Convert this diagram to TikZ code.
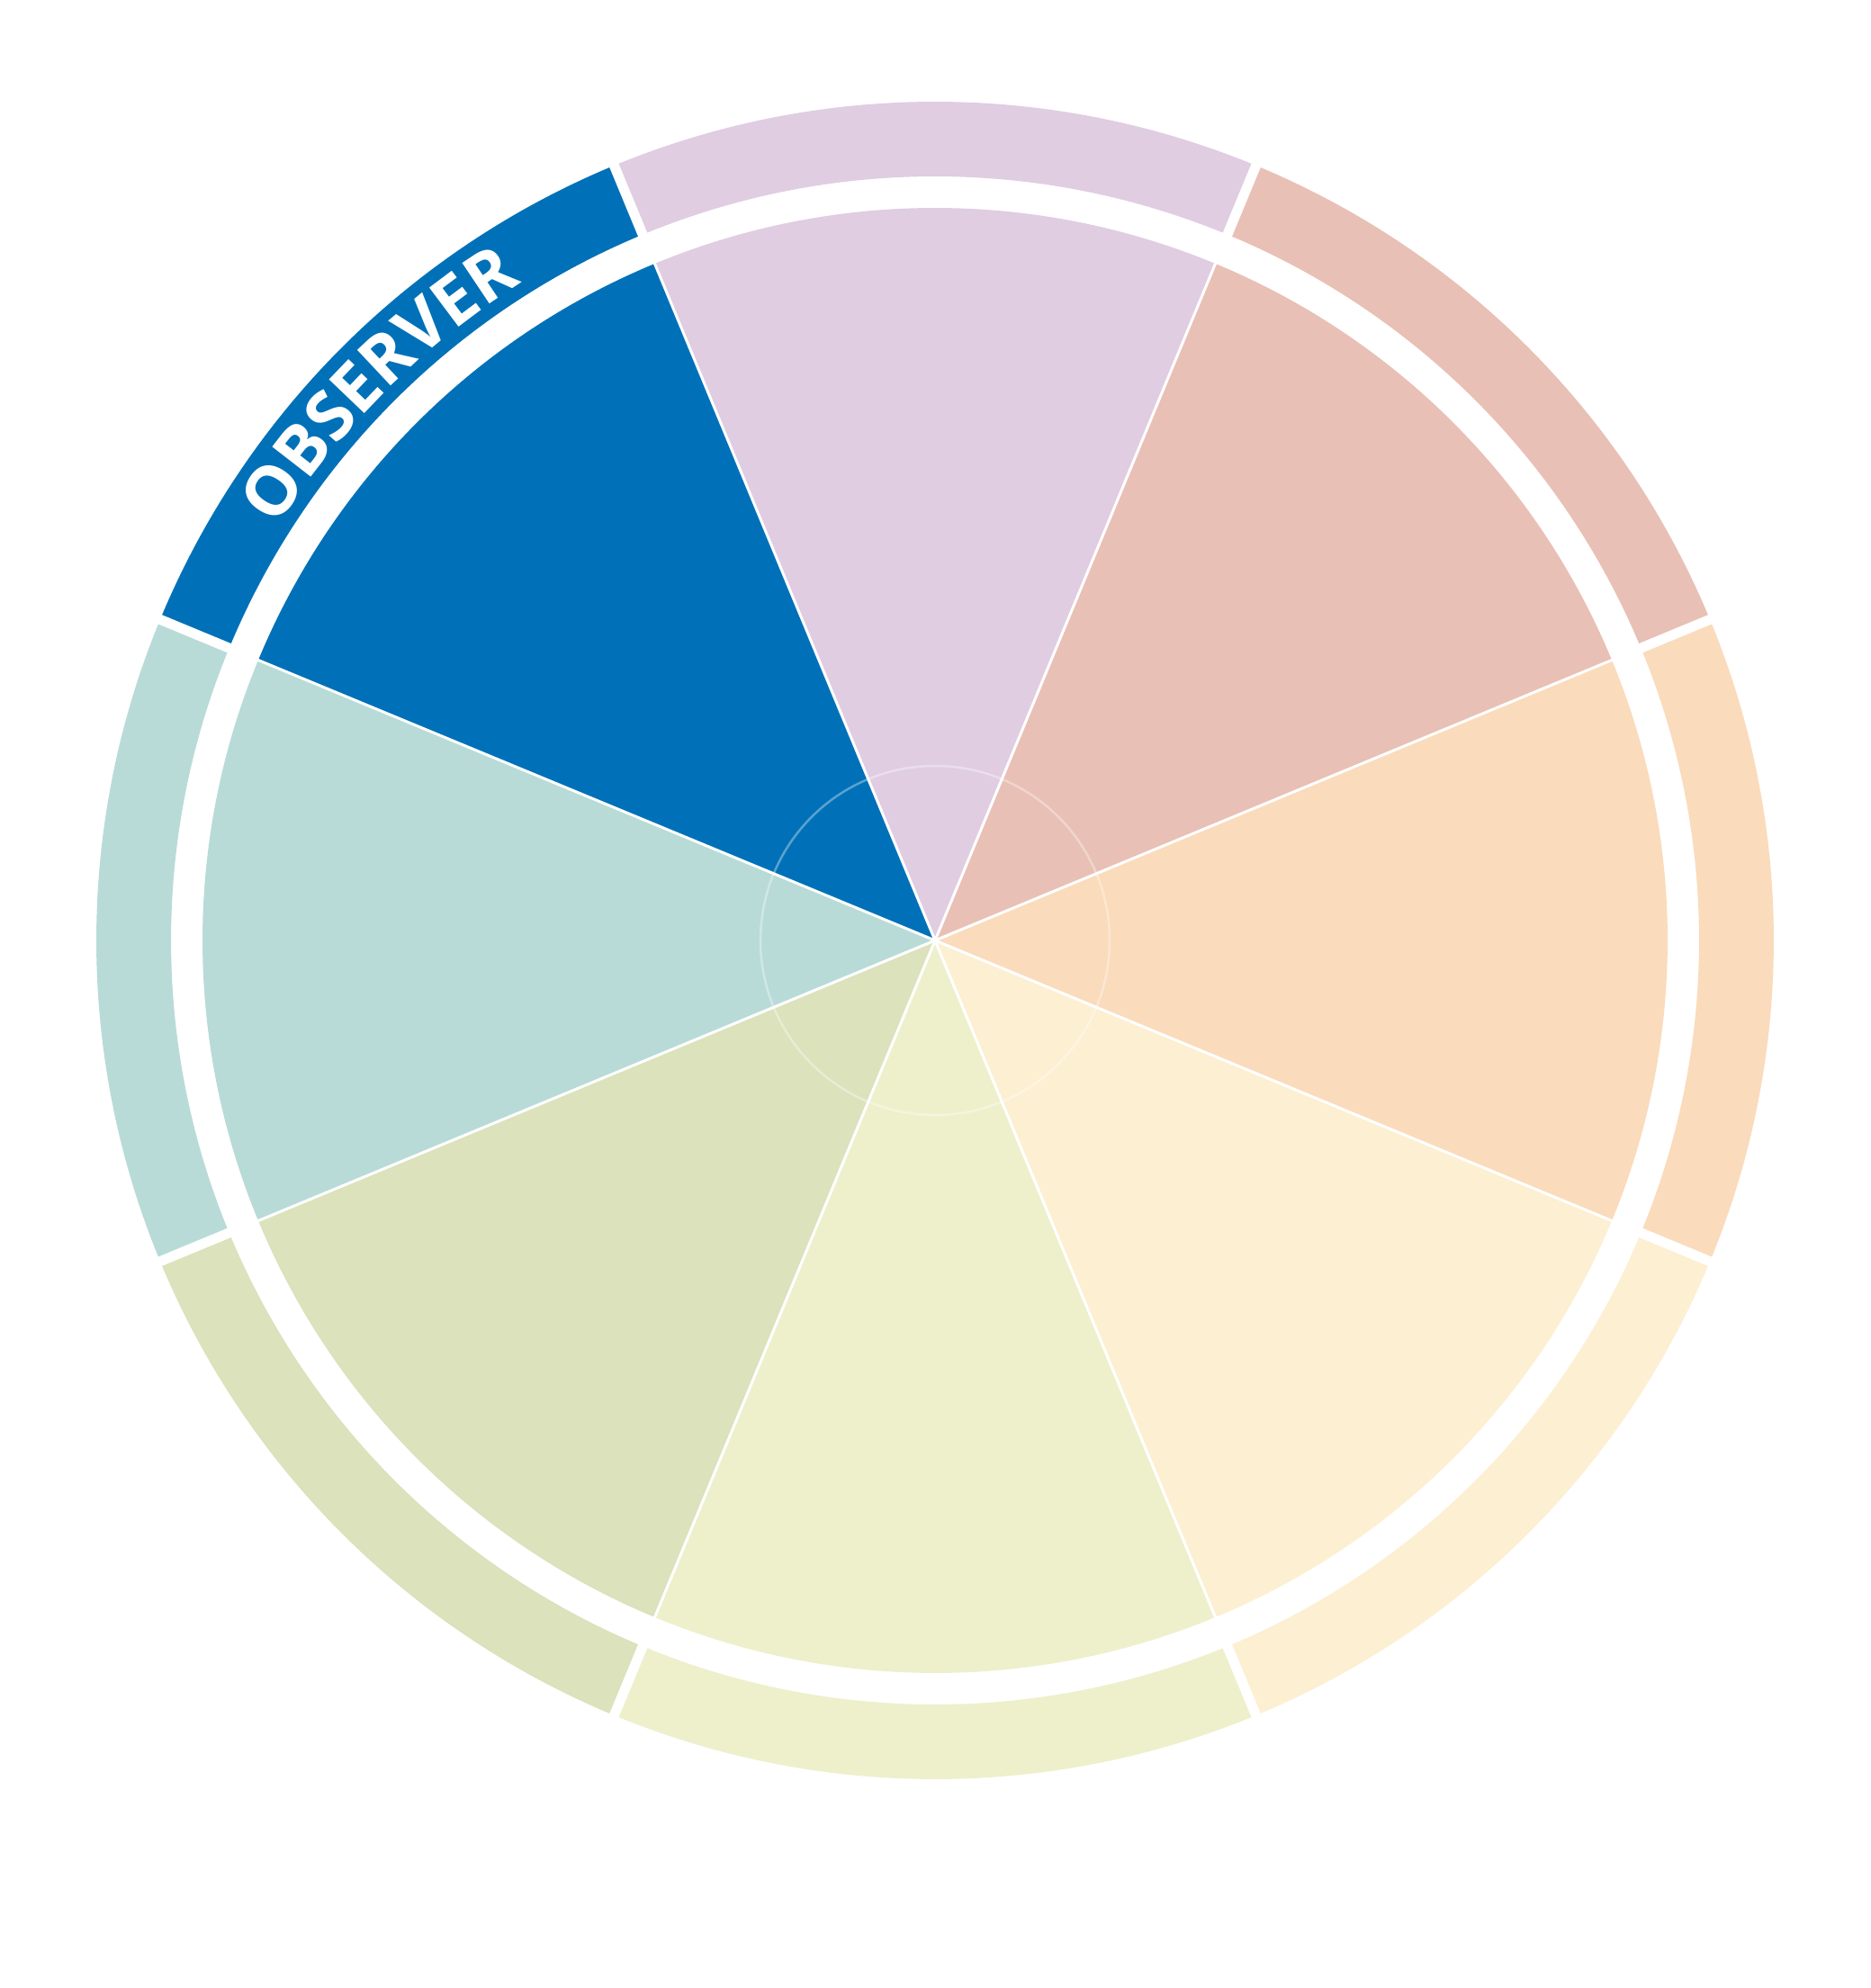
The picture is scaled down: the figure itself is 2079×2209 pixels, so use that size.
\documentclass[tikz,border=0pt]{standalone}
\usepackage{fontspec}
\newfontfamily\obsfont{Open Sans}
\usetikzlibrary{decorations.text}
\definecolor{cSalmon}{RGB}{233,192,181}
\definecolor{cPurple}{RGB}{224,205,226}
\definecolor{cBlue}{RGB}{0,113,184}
\definecolor{cTeal}{RGB}{184,219,216}
\definecolor{cOlive}{RGB}{219,226,188}
\definecolor{cLgreen}{RGB}{238,240,204}
\definecolor{cCream}{RGB}{253,239,210}
\definecolor{cOrange}{RGB}{250,219,187}
\tikzset{
  ringgap/.style={white, line width=11pt},
  piegap/.style={white, line width=3pt},
  hubring/.style={white, opacity=0.35, line width=2.5pt}
}
\begin{document}
\begin{tikzpicture}[x=1pt,y=1pt]
\useasboundingbox (0,0) rectangle (2079,2209);
\fill[white] (0,0) rectangle (2079,2209);
\begin{scope}[shift={(1039,1164)}]
  % pie sectors and ring segments
  \foreach \a/\col in {22.5/cSalmon,67.5/cPurple,112.5/cBlue,157.5/cTeal,202.5/cOlive,247.5/cLgreen,292.5/cCream,337.5/cOrange}{
    \pgfmathsetmacro{\b}{\a+45}
    \fill[\col] (0,0) -- (\a:814) arc[start angle=\a, end angle=\b, radius=814] -- cycle;
    \fill[\col] (\a:932) arc[start angle=\a, end angle=\b, radius=932] -- (\b:849) arc[start angle=\b, end angle=\a, radius=849] -- cycle;
  }
  % separators
  \foreach \a in {22.5,67.5,112.5,157.5,202.5,247.5,292.5,337.5}{
    \draw[ringgap] (\a:843) -- (\a:940);
    \draw[piegap] (0,0) -- (\a:818);
  }
  % hub circle
  \draw[hubring] (0,0) circle[radius=194];
  % label
  \path[decorate, decoration={text along path, text align=center, text color=white,
      text={|\obsfont\bfseries\fontsize{76}{76}\selectfont|OBSERVER}}]
      (150:863) arc[start angle=150, end angle=120, radius=863];
\end{scope}
\end{tikzpicture}
\end{document}
